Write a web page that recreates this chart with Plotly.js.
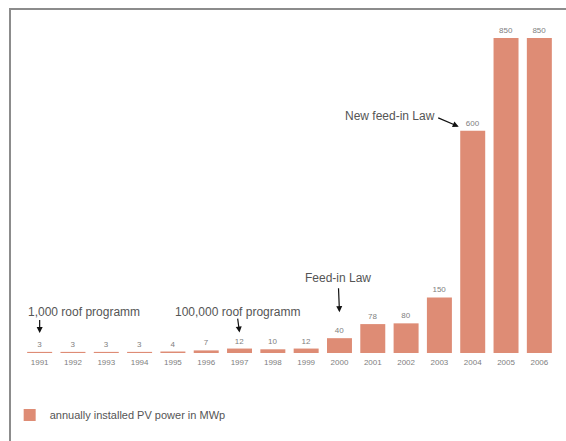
<!DOCTYPE html>
<html>
<head>
<meta charset="utf-8">
<script src="https://cdn.plot.ly/plotly-3.0.1.min.js"></script>
<style>
  html, body { margin: 0; padding: 0; background: #fff; }
  #wrap { position: relative; width: 566px; height: 441px; overflow: hidden; }
  #frame { position: absolute; left: 9px; top: 8px; width: 600px; height: 500px;
           border-left: 2px solid #8c8c8c; border-top: 2px solid #8c8c8c; }
  #chart { position: absolute; left: 0; top: 0; width: 566px; height: 441px; }
</style>
</head>
<body>
<div id="wrap">
  <div id="frame"></div>
  <div id="chart"></div>
</div>
<script>
const years = ['1991','1992','1993','1994','1995','1996','1997','1998','1999','2000','2001','2002','2003','2004','2005','2006'];
const installedMWp = [3, 3, 3, 3, 4, 7, 12, 10, 12, 40, 78, 80, 150, 600, 850, 850];
const seriesName = 'annually installed PV power in MWp';
const noteYears = ['1991', '1997', '2000', '2004'];
const noteTexts = ['1,000 roof programm', '100,000 roof programm', 'Feed-in Law', 'New feed-in Law'];

const barColor = '#de8c75';
const font = 'Liberation Sans, Arial, sans-serif';

const idx = y => years.indexOf(y);
const val = y => installedMWp[years.indexOf(y)];

const trace = {
  type: 'bar',
  x: years,
  y: installedMWp,
  name: seriesName,
  marker: { color: barColor, line: { width: 0 } },
  text: installedMWp.map(String),
  texttemplate: '%{text}',
  textposition: 'outside',
  textfont: { family: font, size: 8, color: '#808080' },
  cliponaxis: false,
  showlegend: true,
  hoverinfo: 'x+y'
};

const arrowStyle = { showarrow: true, arrowhead: 2, arrowsize: 1, arrowwidth: 1.2, arrowcolor: '#111',
                     text: ' ', font: { size: 1 }, borderpad: 0, xref: 'x', yref: 'y' };
const textStyle = { showarrow: false, xref: 'x', yref: 'y', font: { family: font, size: 12, color: '#555' } };

const annotations = [
  // 1,000 roof programm
  Object.assign({}, arrowStyle, { x: idx(noteYears[0]), y: val(noteYears[0]), yshift: 19, ax: 0, ay: -14 }),
  Object.assign({}, textStyle, { x: idx(noteYears[0]), y: val(noteYears[0]), text: noteTexts[0], xanchor: 'left', yanchor: 'middle', xshift: -14, yshift: 40 }),
  // 100,000 roof programm
  Object.assign({}, arrowStyle, { x: idx(noteYears[1]), y: val(noteYears[1]), yshift: 16, ax: -2, ay: -15 }),
  Object.assign({}, textStyle, { x: idx(noteYears[1]), y: val(noteYears[1]), text: noteTexts[1], xanchor: 'left', yanchor: 'middle', xshift: -67, yshift: 37 }),
  // Feed-in Law
  Object.assign({}, arrowStyle, { x: idx(noteYears[2]), y: val(noteYears[2]), yshift: 26, ax: -1, ay: -25 }),
  Object.assign({}, textStyle, { x: idx(noteYears[2]), y: val(noteYears[2]), text: noteTexts[2], xanchor: 'center', yanchor: 'middle', xshift: -1, yshift: 60 }),
  // New feed-in Law
  Object.assign({}, arrowStyle, { x: idx(noteYears[3]), y: val(noteYears[3]), xshift: -14, yshift: 4, ax: -21, ay: -9 }),
  Object.assign({}, textStyle, { x: idx(noteYears[3]), y: val(noteYears[3]), text: noteTexts[3], xanchor: 'right', yanchor: 'middle', xshift: -36, yshift: 15 })
];

const layout = {
  width: 566, height: 441,
  margin: { l: 21, r: 10, t: 38, b: 88 },
  paper_bgcolor: 'rgba(0,0,0,0)',
  plot_bgcolor: 'rgba(0,0,0,0)',
  bargap: 0.25,
  font: { family: font, color: '#555' },
  xaxis: {
    type: 'category',
    range: [-0.5, years.length - 0.5],
    autorange: false,
    showgrid: false, zeroline: false, showline: false, ticks: '',
    ticklabelstandoff: 3,
    tickfont: { family: font, size: 8, color: '#808080' },
    fixedrange: true
  },
  yaxis: {
    range: [0, 850],
    autorange: false,
    visible: false,
    fixedrange: true
  },
  showlegend: true,
  legend: {
    orientation: 'h',
    x: -0.025, xanchor: 'left',
    y: -0.197, yanchor: 'middle',
    bgcolor: 'rgba(0,0,0,0)',
    font: { family: font, size: 11, color: '#555' }
  },
  annotations: annotations
};

Plotly.newPlot('chart', [trace], layout, { displayModeBar: false, staticPlot: true });
</script>
</body>
</html>
